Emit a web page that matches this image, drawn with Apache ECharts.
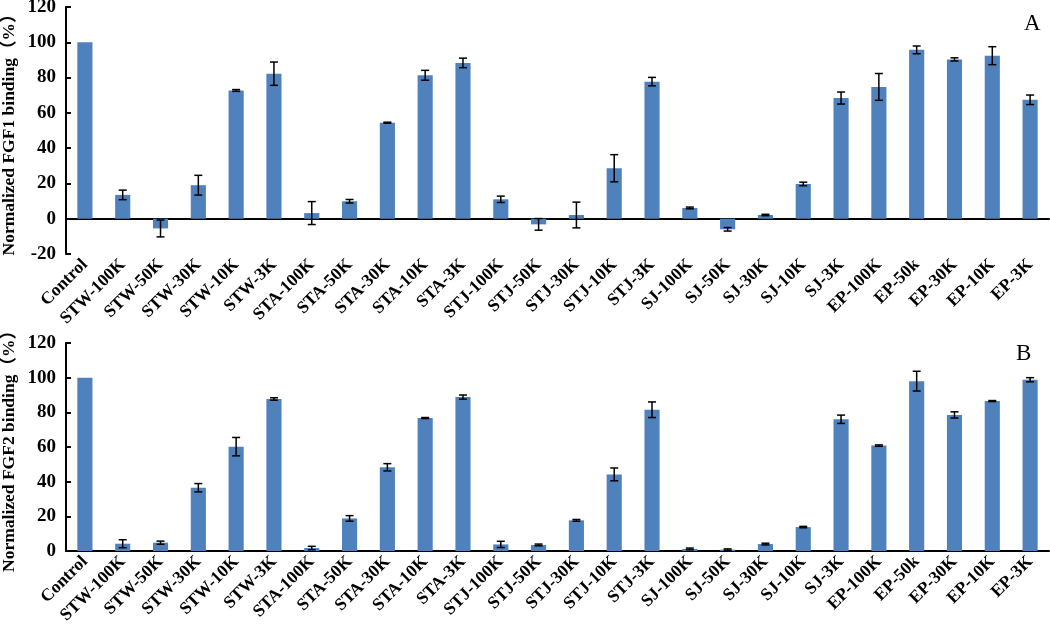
<!DOCTYPE html>
<html>
<head>
<meta charset="utf-8">
<script src="https://cdn.jsdelivr.net/npm/echarts@6/dist/echarts.min.js"></script>
<style>
html,body{margin:0;padding:0;background:#fff;}
#chart{width:1050px;height:636px;}
</style>
</head>
<body>
<div id="chart"></div>
<script>
const categories = ['Control','STW-100K','STW-50K','STW-30K','STW-10K','STW-3K',
  'STA-100K','STA-50K','STA-30K','STA-10K','STA-3K',
  'STJ-100K','STJ-50K','STJ-30K','STJ-10K','STJ-3K',
  'SJ-100K','SJ-50K','SJ-30K','SJ-10K','SJ-3K',
  'EP-100K','EP-50k','EP-30K','EP-10K','EP-3K'];
const fgf1 = [100,13.5,-5.5,19,72.7,82.2,3.2,9.9,54.4,81.3,88.3,11,-3.2,2.1,28.6,77.7,6.1,-6,2.1,19.7,68.4,74.7,95.7,90.3,92.4,67.4];
const fgf1Err = [0,2.7,4.8,5.6,0.5,6.6,6.5,1,0.3,2.8,2.7,1.8,3.3,7.3,7.7,2.4,0.5,1,0.4,1,3.4,7.6,2.2,0.9,5.1,2.7];
const fgf2 = [100,4.2,4.8,36.5,60.2,87.7,1.7,18.8,48.3,76.7,88.8,3.8,3.5,17.7,44.2,81.5,1.2,0.8,4,13.8,76,60.8,98,78.5,86.5,98.8];
const fgf2Err = [0,2.3,0.9,2.4,5.3,0.7,1,1.6,2.1,0.3,1.2,1.8,0.5,0.5,3.7,4.5,0.5,0.4,0.5,0.4,2.4,0.4,5.7,1.8,0.3,1.2];
const yTicks1 = {min:-20, max:120, interval:20};
const yTicks2 = {min:0, max:120, interval:20};
const yNames = ['Normalized FGF1 binding（%）','Normalized FGF2 binding（%）'];
const panelLetters = ['A','B'];

const serif = "'Liberation Serif','Times New Roman','Noto Sans CJK SC',serif";
const barColor = '#4F81BD';

function errRender(params, api){
  const x = api.value(0), v = api.value(1), e = api.value(2);
  if (!e) return null;
  const t = api.coord([x, v + e]);
  const b = api.coord([x, v - e]);
  const hw = 4;
  const style = {stroke:'#000', lineWidth:1.5};
  return {type:'group', children:[
    {type:'line', shape:{x1:t[0],y1:t[1],x2:b[0],y2:b[1]}, style},
    {type:'line', shape:{x1:t[0]-hw,y1:t[1],x2:t[0]+hw,y2:t[1]}, style},
    {type:'line', shape:{x1:b[0]-hw,y1:b[1],x2:b[0]+hw,y2:b[1]}, style}
  ]};
}

function xAxis(idx){
  return {
    type:'category', gridIndex:idx, data:categories,
    axisLine:{onZero:true, lineStyle:{color:'#000', width:2}},
    axisTick:{show:false},
    axisLabel:{rotate:45, interval:0, margin:8, color:'#000', fontFamily:serif, fontWeight:'bold', fontSize:17.5}
  };
}
function yAxis(idx, t){
  return {
    type:'value', gridIndex:idx, min:t.min, max:t.max, interval:t.interval,
    name:yNames[idx], nameLocation:'middle', nameGap:48, nameRotate:90, nameMoveOverlap:false,
    nameTextStyle:{color:'#000', fontFamily:serif, fontWeight:'bold', fontSize:17.5},
    axisLine:{show:true, lineStyle:{color:'#000', width:2}},
    axisTick:{show:true, inside:true, length:5, lineStyle:{color:'#000', width:2}},
    axisLabel:{color:'#000', fontFamily:serif, fontWeight:'bold', fontSize:19, margin:10},
    splitLine:{show:false}
  };
}

const chart = echarts.init(document.getElementById('chart'));
chart.setOption({
  animation:false,
  backgroundColor:'#fff',
  title:[
    {text:panelLetters[0], left:1019, top:7, textStyle:{fontFamily:serif, fontWeight:'normal', fontSize:23, color:'#000'}},
    {text:panelLetters[1], left:1011, top:337, textStyle:{fontFamily:serif, fontWeight:'normal', fontSize:23, color:'#000'}}
  ],
  grid:[
    {left:66, right:1, top:7, height:247, containLabel:false, outerBoundsMode:'none'},
    {left:66, right:1, top:343, height:208, containLabel:false, outerBoundsMode:'none'}
  ],
  xAxis:[xAxis(0), xAxis(1)],
  yAxis:[yAxis(0, yTicks1), yAxis(1, yTicks2)],
  series:[
    {type:'bar', xAxisIndex:0, yAxisIndex:0, data:fgf1, barWidth:'40%', itemStyle:{color:barColor}},
    {type:'custom', xAxisIndex:0, yAxisIndex:0, renderItem:errRender, z:5,
      data:categories.map((c,i)=>[i, fgf1[i], fgf1Err[i]]), encode:{x:0, y:1}},
    {type:'bar', xAxisIndex:1, yAxisIndex:1, data:fgf2, barWidth:'40%', itemStyle:{color:barColor}},
    {type:'custom', xAxisIndex:1, yAxisIndex:1, renderItem:errRender, z:5,
      data:categories.map((c,i)=>[i, fgf2[i], fgf2Err[i]]), encode:{x:0, y:1}}
  ]
});
</script>
</body>
</html>
